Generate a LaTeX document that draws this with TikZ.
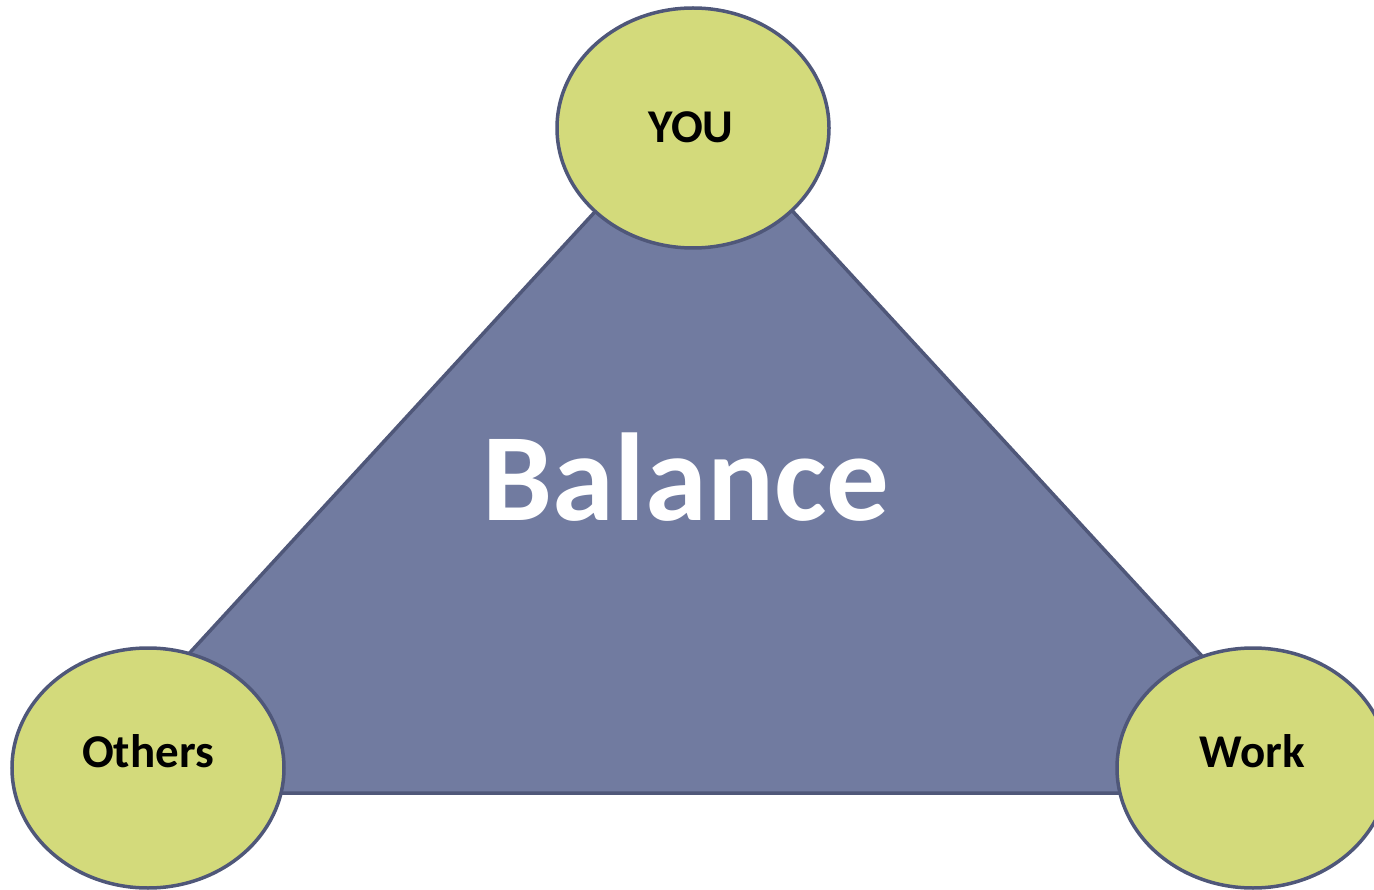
\documentclass[tikz,border=0pt]{standalone}
\usepackage{fontspec}
\setmainfont{Carlito}
\usetikzlibrary{shapes.geometric}
\definecolor{trifill}{HTML}{717BA0}
\definecolor{edgecol}{HTML}{4F5779}
\definecolor{bubblefill}{HTML}{D3DA7B}
\tikzset{
  bubble/.style={ellipse, draw=edgecol, fill=bubblefill, line width=3.5pt,
    minimum width=272pt, minimum height=240pt, inner sep=0pt},
  lbl/.style={anchor=base, inner sep=0pt, text=black,
    font=\fontsize{47}{50}\selectfont\bfseries},
  bigtxt/.style={anchor=base, inner sep=0pt, text=white,
    font=\fontsize{125}{130}\selectfont\bfseries},
}
\begin{document}
\begin{tikzpicture}[x=1pt,y=-1pt]
\useasboundingbox (0,0) rectangle (1374,890);
\coordinate (apex) at (694,104);
\coordinate (bl) at (61,793);
\coordinate (br) at (1328,793);
\draw[fill=trifill, draw=edgecol, line width=3.5pt, line join=miter] (apex) -- (bl) -- (br) -- cycle;
\node[bigtxt] (balance) at (686,520) {Balance};
\node[bubble] (you) at (693,128) {};
\node[bubble] (others) at (148,768) {};
\node[bubble] (work) at (1253,768) {};
\node[lbl] (youtxt) at (691,143) {YOU};
\node[lbl] (otherstxt) at (148,767) {Others};
\node[lbl] (worktxt) at (1252,767) {Work};
\end{tikzpicture}
\end{document}
